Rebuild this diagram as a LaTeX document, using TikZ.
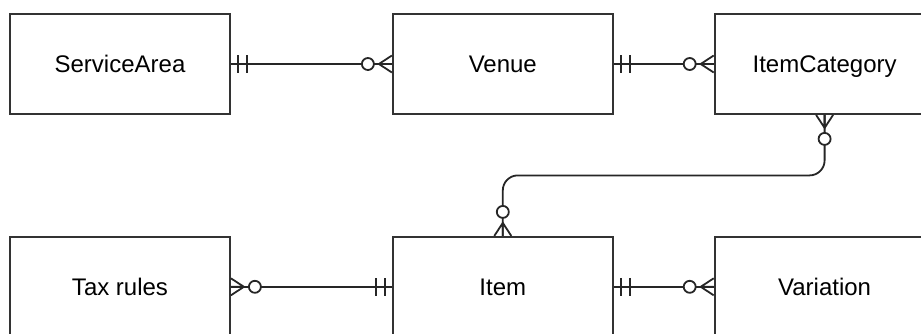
\documentclass[tikz,border=0pt]{standalone}
\usepackage{fontspec}
\setmainfont{Liberation Sans}
\usetikzlibrary{positioning,calc}
\tikzset{
  entity/.style={draw=black!80,line width=0.9pt,minimum width=110pt,minimum height=50pt,
    inner sep=0pt,text height=8.6pt,text depth=0pt,font=\fontsize{12}{14}\selectfont},
  rel/.style={line width=0.9pt,black!85},
  mandone/.pic={\draw[rel] (7,-9) -- (7,9) (16,-9) -- (16,9);},
  zeromany/.pic={
    \draw[rel] (0,-8.5) -- (13,0) -- (0,8.5) (0,0) -- (13,0);
    \draw[rel,fill=white] (24,0) circle[radius=3pt];}
}
\begin{document}
\begin{tikzpicture}[x=0.5pt,y=-0.5pt]
  \useasboundingbox (0,0) rectangle (921,333);
  % entities
  \node[entity] (sa) at (120,64) {ServiceArea};
  \node[entity,right=80.5pt of sa] (ve) {Venue};
  \node[entity,right=50pt of ve] (ic) {ItemCategory};
  \node[entity,below=60.5pt of sa] (tr) {Tax rules};
  \node[entity,below=60.5pt of ve] (it) {Item};
  \node[entity,below=60.5pt of ic] (va) {Variation};
  % relations
  \draw[rel] (sa) -- (ve);
  \draw[rel] (ve) -- (ic);
  \draw[rel] (tr) -- (it);
  \draw[rel] (it) -- (va);
  \draw[rel,rounded corners=7.5pt] (ic.south) |- ($(ic.south)!0.5!(it.north)$) -| (it.north);
  \pic at (sa.east) {mandone};
  \pic[rotate=180] at (ve.west) {zeromany};
  \pic at (ve.east) {mandone};
  \pic[rotate=180] at (ic.west) {zeromany};
  \pic[rotate=-90] at (ic.south) {zeromany};
  \pic[rotate=90] at (it.north) {zeromany};
  \pic at (tr.east) {zeromany};
  \pic[rotate=180] at (it.west) {mandone};
  \pic at (it.east) {mandone};
  \pic[rotate=180] at (va.west) {zeromany};
\end{tikzpicture}
\end{document}
